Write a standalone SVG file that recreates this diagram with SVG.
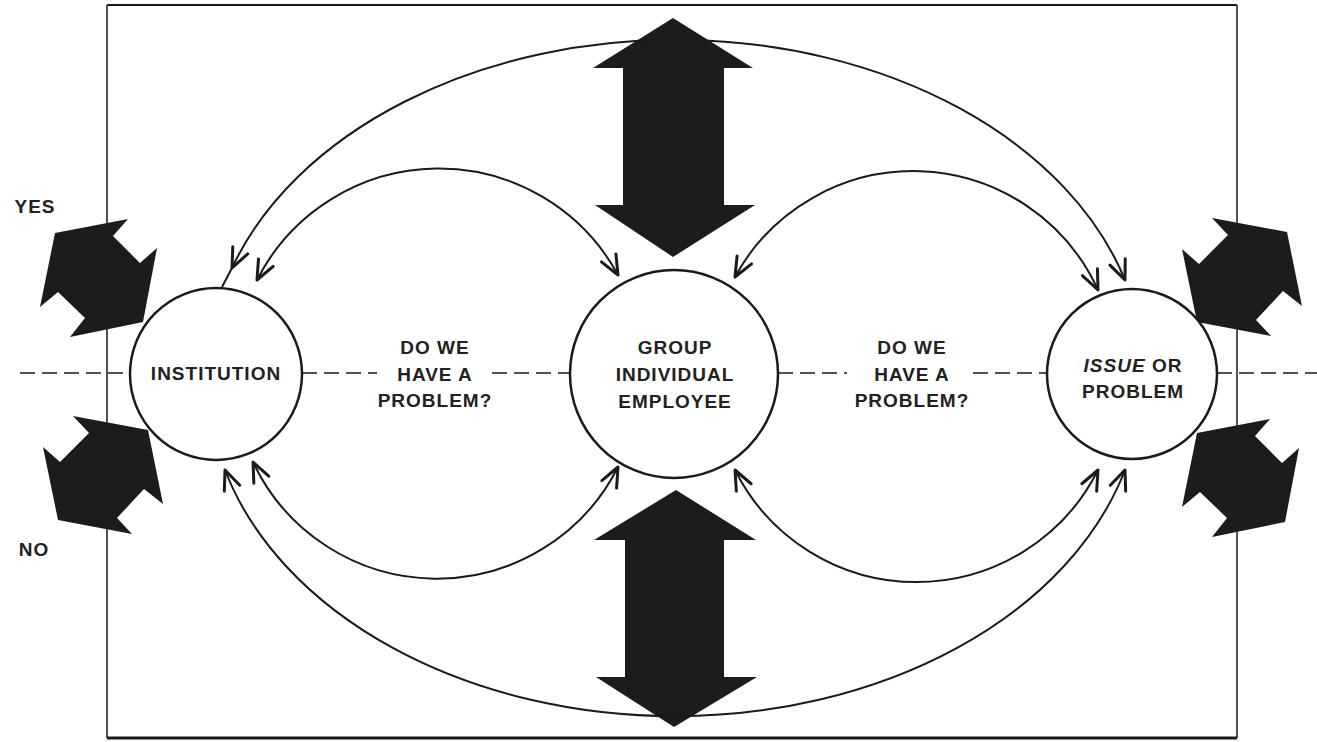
<svg xmlns="http://www.w3.org/2000/svg" width="1317" height="742" viewBox="0 0 1317 742">
<defs>
<style>
.lbl{font-family:"Liberation Sans",Arial,sans-serif;font-weight:bold;font-size:19px;fill:#222;letter-spacing:1px;text-anchor:middle}
.node{fill:#fff;stroke:#1a1a1a;stroke-width:2.5}
.arc{fill:none;stroke:#1a1a1a;stroke-width:2;marker-start:url(#ah);marker-end:url(#ah)}
.dash{fill:none;stroke:#1a1a1a;stroke-width:1.5;stroke-dasharray:15 7}
.blk{fill:#1c1c1c}
</style>
<marker id="ah" markerUnits="userSpaceOnUse" markerWidth="30" markerHeight="30" viewBox="-15 -10 20 20" refX="0" refY="0" orient="auto-start-reverse">
<path d="M -13 -5.5 L 0 0 L -13 5.5" fill="none" stroke="#1a1a1a" stroke-width="2" stroke-linecap="round" stroke-linejoin="round"/>
</marker>
<polygon id="pinA" points="55,233 128,219 113,236 140,263 157,248 143,322 70,337 85,318 58,292 40,307"/>
<polygon id="pinB" points="73,416 148,430 163,504 144,489 117,518 132,534 58,520 43,447 60,462 89,433"/>
</defs>
<rect width="1317" height="742" fill="#fff"/>
<g id="frame" fill="none" stroke="#1a1a1a">
<line x1="107" y1="5" x2="1237" y2="5" stroke-width="2"/>
<line x1="107" y1="738" x2="1237" y2="738" stroke-width="3"/>
<line x1="107" y1="5" x2="107" y2="738" stroke-width="1.5"/>
<line x1="1237" y1="5" x2="1237" y2="738" stroke-width="1.5"/>
</g>
<g id="big-arrows" class="blk">
<polygon points="673,18 753,68 724,68 724,205 755,205 673,257 595,205 623,205 623,68 593,68"/>
<polygon points="676,490 756,540 724,540 724,677 757,677 674,727 596,677 625,677 625,540 594,540"/>
</g>
<g id="yes-no-arrows" class="blk">
<use href="#pinA"/>
<use href="#pinB"/>
<use href="#pinB" transform="translate(1139,-198)"/>
<use href="#pinA" transform="translate(1142,200)"/>
</g>
<g id="connectors">
<line class="dash" x1="20" y1="373" x2="130" y2="373"/>
<line class="dash" x1="302" y1="373" x2="377" y2="373"/>
<line class="dash" x1="492" y1="373" x2="570" y2="373"/>
<line class="dash" x1="778" y1="373" x2="847" y2="373"/>
<line class="dash" x1="973" y1="373" x2="1047" y2="373"/>
<line class="dash" x1="1217" y1="373" x2="1317" y2="373"/>
<path class="arc" d="M 232 268 A 468 334 0 0 1 1125 280"/>
<line x1="232" y1="268" x2="222" y2="287" stroke="#1a1a1a" stroke-width="2"/>
<path class="arc" d="M 225 470 A 467 336 0 0 0 1125 470"/>
<path class="arc" d="M 257 280 A 204 204 0 0 1 618 275"/>
<path class="arc" d="M 735 277 A 203 203 0 0 1 1098 290"/>
<path class="arc" d="M 253 462 A 203 203 0 0 0 618 467"/>
<path class="arc" d="M 735 470 A 203 203 0 0 0 1098 470"/>
</g>
<g id="institution">
<circle class="node" cx="216" cy="374" r="86"/>
<text class="lbl" x="216" y="380">INSTITUTION</text>
</g>
<g id="group">
<circle class="node" cx="674" cy="374" r="104"/>
<text class="lbl" x="675" y="354">GROUP</text>
<text class="lbl" x="675" y="381">INDIVIDUAL</text>
<text class="lbl" x="675" y="408">EMPLOYEE</text>
</g>
<g id="issue">
<circle class="node" cx="1132" cy="374" r="85"/>
<text class="lbl" x="1133" y="372"><tspan font-style="italic">ISSUE</tspan> OR</text>
<text class="lbl" x="1133" y="398">PROBLEM</text>
</g>
<g id="question-left">
<text class="lbl" x="435" y="354">DO WE</text>
<text class="lbl" x="435" y="381">HAVE A</text>
<text class="lbl" x="435" y="407">PROBLEM?</text>
</g>
<g id="question-right">
<text class="lbl" x="912" y="354">DO WE</text>
<text class="lbl" x="912" y="381">HAVE A</text>
<text class="lbl" x="912" y="407">PROBLEM?</text>
</g>
<g id="yes-no">
<text class="lbl" x="35" y="213">YES</text>
<text class="lbl" x="34" y="556">NO</text>
</g>
</svg>
